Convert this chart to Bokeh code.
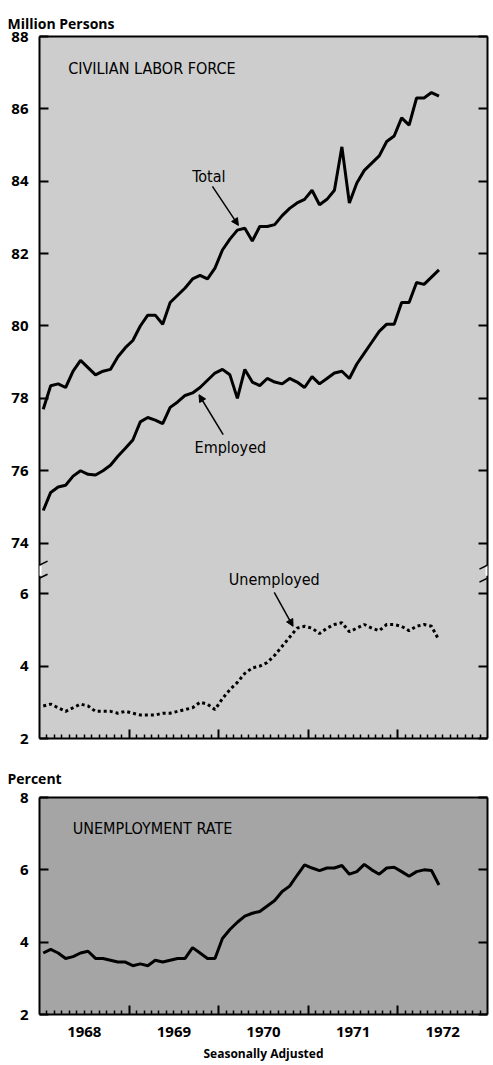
from bokeh.plotting import figure
from bokeh.models import Range1d, LinearAxis, FixedTicker, Label, Arrow, NormalHead
from bokeh.layouts import column
from bokeh.embed import file_html
from bokeh.resources import INLINE

# ---- data (monthly, Jan 1968 - Jun 1972, seasonally adjusted) ----
months = [f"{y}-{m:02d}" for y in range(1968, 1973) for m in range(1, 13)][:54]

total = [77.7, 78.35, 78.4, 78.3, 78.75, 79.05, 78.85, 78.65, 78.75, 78.8,
         79.15, 79.4, 79.6, 80.0, 80.3, 80.3, 80.05, 80.65, 80.85, 81.05,
         81.3, 81.4, 81.3, 81.6, 82.1, 82.4, 82.65, 82.7, 82.35, 82.75,
         82.75, 82.8, 83.05, 83.25, 83.4, 83.5, 83.75, 83.35, 83.5, 83.75,
         84.95, 83.4, 83.95, 84.3, 84.5, 84.7, 85.1, 85.25, 85.75, 85.55,
         86.3, 86.3, 86.45, 86.35]

employed = [74.9, 75.4, 75.55, 75.6, 75.85, 76.0, 75.9, 75.88, 76.0, 76.15,
            76.4, 76.62, 76.85, 77.35, 77.47, 77.4, 77.3, 77.75, 77.9, 78.08,
            78.15, 78.3, 78.5, 78.7, 78.8, 78.65, 78.0, 78.8, 78.45, 78.35,
            78.55, 78.45, 78.4, 78.55, 78.45, 78.3, 78.6, 78.4, 78.55, 78.7,
            78.75, 78.55, 78.95, 79.25, 79.55, 79.85, 80.05, 80.05, 80.65, 80.65,
            81.2, 81.15, 81.35, 81.55]

unemployed = [2.9, 2.95, 2.85, 2.75, 2.85, 2.95, 2.9, 2.75, 2.75, 2.75,
              2.7, 2.75, 2.7, 2.65, 2.65, 2.65, 2.7, 2.7, 2.75, 2.8,
              2.85, 3.0, 2.95, 2.8, 3.1, 3.35, 3.55, 3.8, 3.95, 4.0,
              4.1, 4.3, 4.55, 4.8, 5.05, 5.1, 5.05, 4.9, 5.05, 5.15,
              5.2, 4.95, 5.05, 5.15, 5.05, 4.98, 5.15, 5.15, 5.1, 4.98,
              5.1, 5.15, 5.1, 4.72]

rate = [3.7, 3.8, 3.7, 3.55, 3.6, 3.7, 3.75, 3.55, 3.55, 3.5,
        3.45, 3.45, 3.35, 3.4, 3.35, 3.5, 3.45, 3.5, 3.55, 3.55,
        3.85, 3.7, 3.55, 3.55, 4.1, 4.35, 4.55, 4.72, 4.8, 4.85,
        5.0, 5.15, 5.4, 5.55, 5.85, 6.14, 6.05, 5.98, 6.05, 6.05,
        6.12, 5.88, 5.95, 6.15, 6.0, 5.88, 6.05, 6.07, 5.95, 5.82,
        5.95, 6.0, 5.98, 5.58]

years = [1968, 1969, 1970, 1971, 1972]
labor_ticks = [88, 86, 84, 82, 80, 78, 76, 74]
unemp_ticks = [6, 4, 2]
rate_ticks = [8, 6, 4, 2]

# ---- helpers ----
x = [int(s[:4]) + (int(s[5:]) - 0.5) / 12 for s in months]
OFFSET = 66.6  # scale break: unemployed plotted below 74 on the same axis
unemp_plot = [round(v + OFFSET, 3) for v in unemployed]

BOLD = "Open Sans"
NARROW = "DejaVu Sans Condensed, Roboto Condensed, Liberation Sans Narrow, Roboto"
X0, X1 = 1968, 1973
month_bounds = [X0 + i / 12 for i in range(1, 60) if i % 12 != 0]


def base_fig(height, y0, y1, top, bottom, bg, title, standoff):
    p = figure(width=490, height=height, x_range=Range1d(X0, X1), y_range=Range1d(y0, y1),
               output_backend="svg", toolbar_location=None,
               x_axis_location=None, y_axis_location=None,
               min_border_left=39, min_border_right=3,
               min_border_top=top, min_border_bottom=bottom,
               background_fill_color=bg, border_fill_color="white",
               outline_line_color=None, title=title)
    p.title.align = "left"
    p.title.offset = -32
    p.title.standoff = standoff
    p.title.text_font = BOLD
    p.title.text_font_style = "bold"
    p.title.text_font_size = "14px"
    p.title.text_color = "black"
    p.xgrid.visible = False
    p.ygrid.visible = False
    return p


def frame_axes(p, yticks, overrides, with_year_labels):
    left = LinearAxis(ticker=FixedTicker(ticks=yticks), major_tick_in=9, major_tick_out=0,
                      major_tick_line_width=2, axis_line_width=2,
                      major_label_standoff=11, major_label_overrides=overrides,
                      major_label_text_font=BOLD, major_label_text_font_style="bold",
                      major_label_text_font_size="15px", major_label_text_color="black")
    p.add_layout(left, "left")
    right = LinearAxis(ticker=FixedTicker(ticks=yticks), major_tick_in=9, major_tick_out=0,
                       major_tick_line_width=2, axis_line_width=2,
                       major_label_standoff=0,
                       major_label_overrides={t: "" for t in yticks})
    p.add_layout(right, "right")
    top = LinearAxis(ticker=FixedTicker(ticks=[]), axis_line_width=2,
                     major_tick_in=0, major_tick_out=0, major_label_standoff=0)
    p.add_layout(top, "above")
    bot = LinearAxis(ticker=FixedTicker(ticks=years[1:], minor_ticks=month_bounds),
                     major_tick_in=9, major_tick_out=0, major_tick_line_width=2,
                     minor_tick_in=4, minor_tick_out=0, minor_tick_line_width=1.5,
                     axis_line_width=2, major_label_standoff=0,
                     major_label_overrides={t: "" for t in years[1:]})
    p.add_layout(bot, "below")
    if with_year_labels:
        mids = [y + 0.5 for y in years]
        lab = LinearAxis(ticker=FixedTicker(ticks=mids),
                         major_label_overrides={m: str(y) for m, y in zip(mids, years)},
                         major_tick_in=0, major_tick_out=0, axis_line_color=None,
                         major_label_standoff=12,
                         major_label_text_font=BOLD, major_label_text_font_style="bold",
                         major_label_text_font_size="15px", major_label_text_color="black",
                         axis_label="Seasonally Adjusted", axis_label_standoff=5,
                         axis_label_text_font=BOLD, axis_label_text_font_style="bold",
                         axis_label_text_font_size="12px", axis_label_text_color="black")
        p.add_layout(lab, "below")


def txt(p, x_, y_, s, size, align="left"):
    p.add_layout(Label(x=x_, y=y_, text=s, text_font=NARROW, text_font_size=size,
                       text_align=align, text_baseline="middle", text_color="black"))


def arrow(p, x0, y0, x1, y1, head=True, color="black", width=1.5):
    p.add_layout(Arrow(x_start=x0, y_start=y0, x_end=x1, y_end=y1,
                       end=NormalHead(size=7, fill_color=color, line_color=color) if head else None,
                       line_color=color, line_width=width))


# ---- top panel: civilian labor force ----
p1 = base_fig(748, 68.6, 88, 36, 10, "#cdcdcd", "Million  Persons", 8)
ticks1 = labor_ticks + [round(v + OFFSET, 2) for v in unemp_ticks]
over1 = {round(v + OFFSET, 2): str(v) for v in unemp_ticks}
frame_axes(p1, ticks1, over1, False)

p1.line(x, total, line_width=3, color="black")
p1.line(x, employed, line_width=3, color="black")
p1.line(x, unemp_plot, line_width=3, color="black", line_dash="3 3")

txt(p1, 1968.32, 87.12, "CIVILIAN LABOR FORCE", "16px")
txt(p1, 1969.89, 84.13, "Total", "16px", align="center")
arrow(p1, 1969.93, 83.86, 1970.22, 82.78)
txt(p1, 1970.13, 76.63, "Employed", "16px", align="center")
arrow(p1, 1970.05, 77.0, 1969.78, 78.1)
txt(p1, 1970.62, 73.0, "Unemployed", "16px", align="center")
arrow(p1, 1970.62, 72.64, 1970.83, 71.7)

# scale-break marks on both vertical axes
for xe in (X0, X1):
    arrow(p1, xe, 73.1, xe, 73.38, head=False, color="#ffffff", width=4)
    arrow(p1, xe - 0.09, 73.28, xe + 0.09, 73.5, head=False, width=1.5)
    arrow(p1, xe - 0.09, 72.92, xe + 0.09, 73.14, head=False, width=1.5)

# ---- bottom panel: unemployment rate ----
p2 = base_fig(316, 2, 8, 49, 47, "#a5a5a5", "Percent", 20)
frame_axes(p2, rate_ticks, {}, True)
p2.line(x, rate, line_width=3, color="black")
txt(p2, 1968.37, 7.13, "UNEMPLOYMENT RATE", "16px")

layout = column(p1, p2, spacing=0)
open("out.html", "w").write(file_html(layout, INLINE))
